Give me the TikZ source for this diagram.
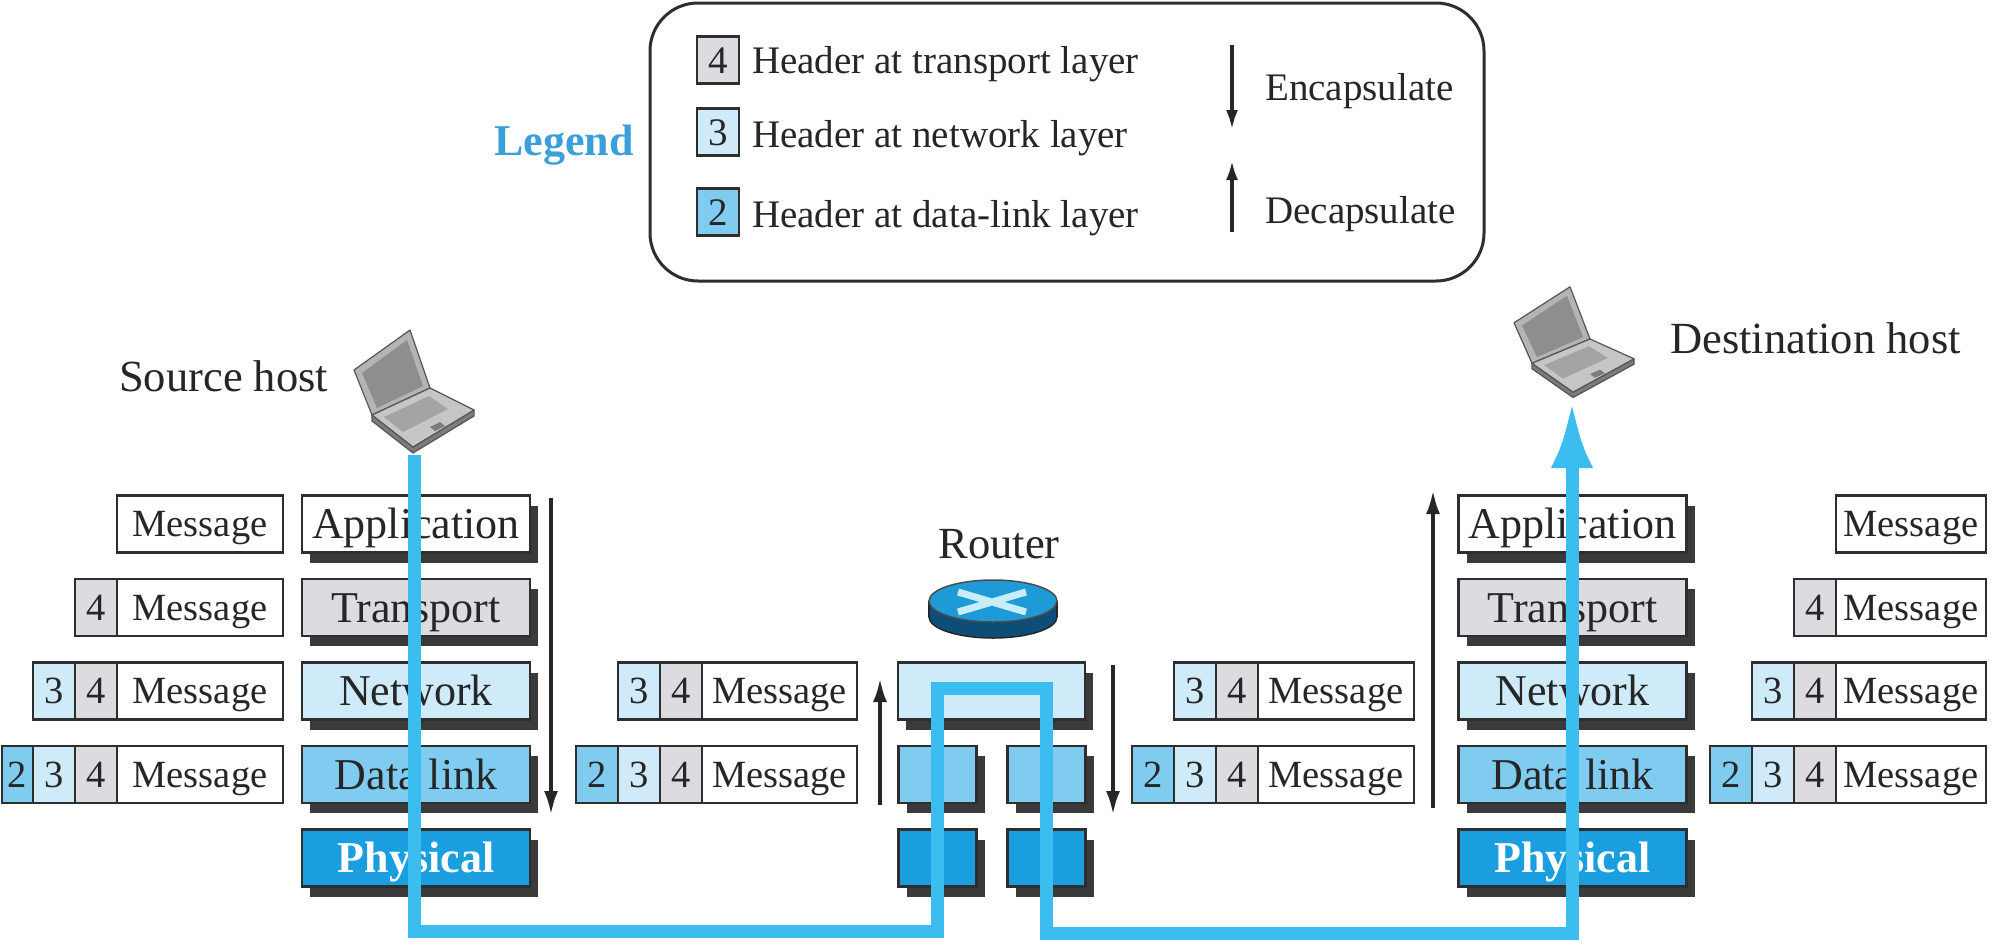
\documentclass[tikz,border=0pt]{standalone}
\usepackage{fontspec}
\setmainfont{Liberation Serif}
\usetikzlibrary{arrows.meta,shadows}

\definecolor{ink}{HTML}{262626}
\definecolor{boxedge}{HTML}{2E2E2E}
\definecolor{shade}{HTML}{3A3A3A}
\definecolor{tpfill}{HTML}{DCDCE0}
\definecolor{nwfill}{HTML}{CFEBF9}
\definecolor{dlfill}{HTML}{80CCF0}
\definecolor{phfill}{HTML}{1A9EE0}
\definecolor{wireblue}{HTML}{3CBDEF}
\definecolor{legendblue}{HTML}{3A9FDA}
\definecolor{routertop}{HTML}{1E9BD7}
\definecolor{routerside}{HTML}{0D4E78}
\definecolor{routerx}{HTML}{C8ECFA}
\definecolor{lidgray}{HTML}{B4B4B4}
\definecolor{screengray}{HTML}{8E8E8E}
\definecolor{basegray}{HTML}{C6C6C6}
\definecolor{keygray}{HTML}{A4A4A4}
\definecolor{sidegray}{HTML}{7C7C7C}
\definecolor{lapedge}{HTML}{555555}

\newcommand\msgfont{\fontsize{38.5}{40}\selectfont}
\newcommand\layerfont{\fontsize{44}{46}\selectfont}
\newcommand\legfont{\fontsize{39}{41}\selectfont}
\newcommand\hostfont{\fontsize{44.5}{46}\selectfont}

\tikzset{
  laptop/.pic={
    % lid and screen
    \filldraw[fill=lidgray, draw=lapedge, line width=1.2pt, line join=round]
      (1,42) -- (57,2) -- (77,60) -- (19,87) -- cycle;
    \fill[screengray] (9,45) -- (54,12) -- (70,58) -- (24,80) -- cycle;
    % base: side faces, top, keyboard, touchpad
    \filldraw[fill=sidegray, draw=lapedge, line width=1.2pt, line join=round]
      (19,87) -- (60,119) -- (121,82) -- (121,88) -- (60,125) -- (19,93) -- cycle;
    \filldraw[fill=basegray, draw=lapedge, line width=1.2pt, line join=round]
      (19,87) -- (77,60) -- (121,82) -- (60,119) -- cycle;
    \fill[keygray] (31,89) -- (76,68) -- (95,81) -- (50,104) -- cycle;
    \fill[keygray!75!black] (77,99) -- (87,94) -- (92,98) -- (82,103) -- cycle;
  }
}

\begin{document}
\begin{tikzpicture}[x=1pt,y=-1pt,
  lbox/.style={draw=boxedge, line width=2.5pt, inner sep=0pt, minimum height=57pt,
               text=ink, text depth=0pt},
  cell/.style={lbox, fill=white, font=\msgfont, text height=25.5pt},
  hcell/.style={lbox, minimum width=42pt, font=\msgfont, text height=25.5pt},
  layerbox/.style={lbox, minimum width=228pt, font=\layerfont, text height=29pt,
               drop shadow={shadow xshift=8pt, shadow yshift=-10pt, opacity=1, fill=shade}},
  flowarrow/.style={draw=ink, line width=4pt, -{Latex[length=24pt,width=14pt]}},
  keyarrow/.style={draw=ink, line width=4pt, -{Latex[length=20pt,width=12pt]}},
  wire/.style={draw=wireblue, line width=13pt},
  hosttext/.style={text=ink, font=\hostfont, inner sep=0pt},
  keytext/.style={text=ink, font=\legfont, inner sep=0pt, anchor=base west},
  keycell/.style={hcell, minimum height=47pt, font=\legfont, text height=26pt},
]
\fill[white] (0,0) rectangle (2002,943);
\useasboundingbox (0,0) rectangle (2002,943);

% ---------- legend ----------
\node[draw=boxedge, line width=3pt, rounded corners=48pt, minimum width=834pt,
      minimum height=278pt, inner sep=0pt] (legbox) at (1067,142) {};
\node[anchor=base, text=legendblue, font=\fontsize{44}{46}\selectfont\bfseries,
      inner sep=0pt] (legtitle) at (564,155) {Legend};
\node[keycell, fill=tpfill] (key4) at (718,60) {4};
\node[keycell, fill=nwfill] (key3) at (718,132) {3};
\node[keycell, fill=dlfill] (key2) at (718,212) {2};
\node[keytext] (keytxt4) at (752,73) {Header at transport layer};
\node[keytext] (keytxt3) at (752,147) {Header at network layer};
\node[keytext] (keytxt2) at (752,227) {Header at data-link layer};
\coordinate (encA) at (1232,45);  \coordinate (encB) at (1232,130);
\coordinate (decA) at (1232,232); \coordinate (decB) at (1232,160);
\draw[keyarrow] (encA) -- (encB);
\draw[keyarrow] (decA) -- (decB);
\node[keytext] (enctxt) at (1265,100) {Encapsulate};
\node[keytext] (dectxt) at (1265,223) {Decapsulate};

% ---------- hosts ----------
\pic (srclaptop) at (353,328) {laptop};
\pic[yscale=0.9] (dstlaptop) at (1513,285) {laptop};
\node[hosttext, anchor=base west] (srclbl) at (119,391) {Source host};
\node[hosttext, anchor=base west] (dstlbl) at (1670,353) {Destination host};

% ---------- source stack ----------
\node[layerbox, fill=white]  (sApp) at (416,524)   {Application};
\node[layerbox, fill=tpfill] (sTr)  at (416,607.5) {Transport};
\node[layerbox, fill=nwfill] (sNw)  at (416,691)   {Network};
\node[layerbox, fill=dlfill] (sDl)  at (416,774.5) {Data link};
\node[layerbox, fill=phfill, text=white, font=\layerfont\bfseries] (sPh) at (416,858) {Physical};

% ---------- destination stack ----------
\node[layerbox, fill=white]  (dApp) at (1572.5,524)   {Application};
\node[layerbox, fill=tpfill] (dTr)  at (1572.5,607.5) {Transport};
\node[layerbox, fill=nwfill] (dNw)  at (1572.5,691)   {Network};
\node[layerbox, fill=dlfill] (dDl)  at (1572.5,774.5) {Data link};
\node[layerbox, fill=phfill, text=white, font=\layerfont\bfseries] (dPh) at (1572.5,858) {Physical};

% ---------- router ----------
\node[hosttext, anchor=base] (routerlbl) at (999,558) {Router};
\filldraw[fill=routerside, draw=black!85, line width=1.5pt] (993,617) ellipse [x radius=64pt, y radius=21pt];
\fill[routerside] (929,601) rectangle (1057,617);
\draw[black!85, line width=1.5pt] (929,601) -- (929,617) (1057,601) -- (1057,617);
\filldraw[fill=routertop, draw=black!70, line width=1.5pt] (993,601) ellipse [x radius=64pt, y radius=21pt];
\draw[routerx, line width=7pt] (958,592) -- (1026,612) (1026,592) -- (958,612);

\node[layerbox, fill=nwfill, minimum width=187pt] (rNw)  at (991.5,691)   {};
\node[layerbox, fill=dlfill, minimum width=78pt]  (rDlL) at (937.5,774.5) {};
\node[layerbox, fill=dlfill, minimum width=78pt]  (rDlR) at (1046.5,774.5) {};
\node[layerbox, fill=phfill, minimum width=78pt]  (rPhL) at (937.5,858)   {};
\node[layerbox, fill=phfill, minimum width=78pt]  (rPhR) at (1046.5,858)  {};

% ---------- messages at the source ----------
\node[cell, minimum width=166pt] (sm1) at (200,524) {Message};
\node[cell, minimum width=166pt] (sm2) at (200,607.5) {Message};
\node[hcell, fill=tpfill] (sm2h4) at (96,607.5) {4};
\node[cell, minimum width=166pt] (sm3) at (200,691) {Message};
\node[hcell, fill=tpfill] (sm3h4) at (96,691) {4};
\node[hcell, fill=nwfill] (sm3h3) at (54,691) {3};
\node[cell, minimum width=166pt] (sm4) at (200,774.5) {Message};
\node[hcell, fill=tpfill] (sm4h4) at (96,774.5) {4};
\node[hcell, fill=nwfill] (sm4h3) at (54,774.5) {3};
\node[hcell, fill=dlfill, minimum width=31pt] (sm4h2) at (17.5,774.5) {2};

% ---------- messages entering the router ----------
\node[cell, minimum width=155pt] (ml3) at (779.5,691) {Message};
\node[hcell, fill=tpfill] (ml3h4) at (681,691) {4};
\node[hcell, fill=nwfill] (ml3h3) at (639,691) {3};
\node[cell, minimum width=155pt] (ml4) at (779.5,774.5) {Message};
\node[hcell, fill=tpfill] (ml4h4) at (681,774.5) {4};
\node[hcell, fill=nwfill] (ml4h3) at (639,774.5) {3};
\node[hcell, fill=dlfill] (ml4h2) at (597,774.5) {2};

% ---------- messages leaving the router ----------
\node[cell, minimum width=156pt] (mr3) at (1336,691) {Message};
\node[hcell, fill=tpfill] (mr3h4) at (1237,691) {4};
\node[hcell, fill=nwfill] (mr3h3) at (1195,691) {3};
\node[cell, minimum width=156pt] (mr4) at (1336,774.5) {Message};
\node[hcell, fill=tpfill] (mr4h4) at (1237,774.5) {4};
\node[hcell, fill=nwfill] (mr4h3) at (1195,774.5) {3};
\node[hcell, fill=dlfill] (mr4h2) at (1153,774.5) {2};

% ---------- messages at the destination ----------
\node[cell, minimum width=150pt] (dm1) at (1911,524) {Message};
\node[cell, minimum width=150pt] (dm2) at (1911,607.5) {Message};
\node[hcell, fill=tpfill] (dm2h4) at (1815,607.5) {4};
\node[cell, minimum width=150pt] (dm3) at (1911,691) {Message};
\node[hcell, fill=tpfill] (dm3h4) at (1815,691) {4};
\node[hcell, fill=nwfill] (dm3h3) at (1773,691) {3};
\node[cell, minimum width=150pt] (dm4) at (1911,774.5) {Message};
\node[hcell, fill=tpfill] (dm4h4) at (1815,774.5) {4};
\node[hcell, fill=nwfill] (dm4h3) at (1773,774.5) {3};
\node[hcell, fill=dlfill] (dm4h2) at (1731,774.5) {2};

% ---------- encapsulation / decapsulation arrows ----------
\coordinate (sEncTop) at (551,498);  \coordinate (sEncBot) at (551,815);
\coordinate (rDecBot) at (880,805);  \coordinate (rDecTop) at (880,678);
\coordinate (rEncTop) at (1113,665); \coordinate (rEncBot) at (1113,815);
\coordinate (dDecBot) at (1433,808); \coordinate (dDecTop) at (1433,490);
\draw[flowarrow] (sEncTop) -- (sEncBot);
\draw[flowarrow] (rDecBot) -- (rDecTop);
\draw[flowarrow] (rEncTop) -- (rEncBot);
\draw[flowarrow] (dDecBot) -- (dDecTop);

% ---------- path of the data ----------
\coordinate (srcPort) at (414,455);
\coordinate (dstPort) at (1572,400);
\coordinate (busL) at (0,931);
\coordinate (hop)  at (0,688);
\coordinate (busR) at (0,933);
\draw[wire, -{Latex[length=68pt,width=42pt]}]
  (srcPort) |- (rPhL.center |- busL) -- (rPhL.center |- hop)
  -- (rPhR.center |- hop) -- (rPhR.center |- busR) -| (dstPort);
\end{tikzpicture}
\end{document}
